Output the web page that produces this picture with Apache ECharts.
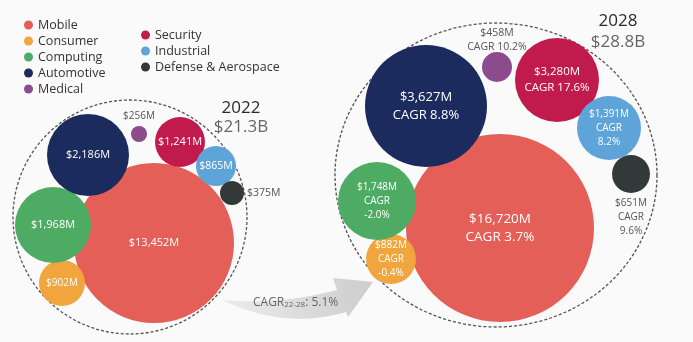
<!DOCTYPE html>
<html>
<head>
<meta charset="utf-8">
<script src="https://cdn.jsdelivr.net/npm/echarts@6/dist/echarts.min.js"></script>
<style>html,body{margin:0;padding:0;background:#fafafa;}#c{width:693px;height:342px;}</style>
</head>
<body>
<div id="c"></div>
<script>
// ---- data ----
const categories = ['Mobile','Consumer','Computing','Automotive','Medical','Security','Industrial','Defense & Aerospace'];
const years = ['2022','2028'];
const totals = ['$21.3B','$28.8B'];
const values2022 = [13452, 902, 1968, 2186, 256, 1241, 865, 375];
const values2028 = [16720, 882, 1748, 3627, 458, 3280, 1391, 651];
const cagr2028 = ['3.7%','-0.4%','-2.0%','8.8%','10.2%','17.6%','8.2%','9.6%'];
const overallCagr = '5.1%';

// ---- layout & style (pixel space of hidden axes) ----
const colors = ['#e45f57','#f0a53d','#4eab63','#1b2b5d','#8b4b8d','#c01b4c','#5ea4d8','#333939'];
const pos = [
  [[154,243],[62,283],[53,225],[88,155],[139,134],[180,142],[216,166],[232,193]],
  [[500,228],[391,259],[377,201],[426,106],[497,67],[557,80],[609,128],[631,174]]
];
const radius = [
  [80,23,38,41,8,25,20,12],
  [94,25,39,61,15,42,32,19]
];
const ringPos = [[130,217],[496,175]];
const ringSize = [[234,234],[322,304]];
const labelPos = [
  ['inside','inside','inside','inside','top','inside','inside','right'],
  ['inside','inside','inside','inside','top','inside','inside','bottom']
];
const labelDist = [
  [5,5,5,5,3,5,5,3],
  [5,5,5,5,-2,5,5,3]
];
const labelSize = [
  [11,10,11,11,10,11,10.5,10.5],
  [13.5,10,10,13,10.5,11.5,10,10]
];
const wrapCagr = [false,true,true,false,false,false,true,true];

const fmt = v => '$' + v.toLocaleString('en-US') + 'M';
const FONT = 'Open Sans';

const series = categories.map((name, i) => ({
  name: name,
  type: 'scatter',
  z: 3,
  itemStyle: { color: colors[i], opacity: 1 },
  symbolSize: (val, p) => radius[p.dataIndex][i] * 2,
  data: [values2022, values2028].map((vals, y) => {
    const outside = labelPos[y][i] !== 'inside';
    let text = fmt(vals[i]);
    if (y === 1) text += (wrapCagr[i] ? '\nCAGR\n' : '\nCAGR ') + cagr2028[i];
    return {
      value: [pos[y][i][0], pos[y][i][1], vals[i]],
      label: {
        show: true,
        position: labelPos[y][i],
        distance: labelDist[y][i],
        formatter: text,
        color: outside ? '#555' : '#fff',
        fontFamily: FONT,
        fontSize: labelSize[y][i],
        lineHeight: Math.round(labelSize[y][i] * 1.35)
      }
    };
  })
}));

series.unshift({
  name: 'ring',
  type: 'scatter',
  z: 1,
  silent: true,
  symbolSize: (val, p) => ringSize[p.dataIndex],
  itemStyle: { color: 'rgba(0,0,0,0)', borderColor: '#2a2a2a', borderWidth: 1.3, borderType: [3, 2] },
  data: ringPos.map(p => ({ value: p }))
});

// decorative curved arrow outline (quadratic curves sampled)
function quad(p0, c, p1, n) {
  const out = [];
  for (let k = 0; k <= n; k++) {
    const t = k / n, u = 1 - t;
    out.push([u*u*p0[0] + 2*u*t*c[0] + t*t*p1[0], u*u*p0[1] + 2*u*t*c[1] + t*t*p1[1]]);
  }
  return out;
}
const arrowPts = [].concat(
  quad([222,300],[285,330],[346,312],20),
  [[348,317],[373,282],[333,278]],
  quad([337,290],[280,305],[222,300],20)
);

const legendText = { fontFamily: FONT, fontSize: 12.5, color: '#333', lineHeight: 14 };

const chart = echarts.init(document.getElementById('c'));
chart.setOption({
  backgroundColor: '#fafafa',
  animation: false,
  grid: { left: 0, right: 0, top: 0, bottom: 0 },
  xAxis: { type: 'value', min: 0, max: 693, show: false },
  yAxis: { type: 'value', min: 0, max: 342, inverse: true, show: false },
  legend: [
    { data: categories.slice(0,5), orient: 'vertical', left: 19, top: 13, icon: 'circle',
      itemWidth: 9, itemHeight: 9, itemGap: 2, selectedMode: false, textStyle: legendText },
    { data: categories.slice(5), orient: 'vertical', left: 136, top: 23, icon: 'circle',
      itemWidth: 9, itemHeight: 9, itemGap: 2, selectedMode: false, textStyle: legendText }
  ],
  graphic: [
    { type: 'polygon', z: 0, silent: true,
      shape: { points: arrowPts },
      style: { fill: new echarts.graphic.LinearGradient(0, 0, 1, 0,
        [{ offset: 0, color: '#ececec' }, { offset: 1, color: '#cdcdcd' }]) } },
    { type: 'text', left: 253, top: 297, z: 5,
      style: { text: '{a|CAGR}{b|22-28}{a|: ' + overallCagr + '}', fill: '#666',
        rich: { a: { fontFamily: FONT, fontSize: 12, fill: '#666', verticalAlign: 'bottom' },
                b: { fontFamily: FONT, fontSize: 8, fill: '#666', verticalAlign: 'bottom' } } } },
    { type: 'text', x: 241, y: 108, z: 5,
      style: { text: years[0], fill: '#2b2b2b', font: '500 17px "' + FONT + '"', align: 'center', verticalAlign: 'middle' } },
    { type: 'text', x: 241, y: 127, z: 5,
      style: { text: totals[0], fill: '#666', font: '17px "' + FONT + '"', align: 'center', verticalAlign: 'middle' } },
    { type: 'text', x: 618, y: 21, z: 5,
      style: { text: years[1], fill: '#2b2b2b', font: '500 17px "' + FONT + '"', align: 'center', verticalAlign: 'middle' } },
    { type: 'text', x: 618, y: 42, z: 5,
      style: { text: totals[1], fill: '#666', font: '17px "' + FONT + '"', align: 'center', verticalAlign: 'middle' } }
  ],
  series: series
});
</script>
</body>
</html>
